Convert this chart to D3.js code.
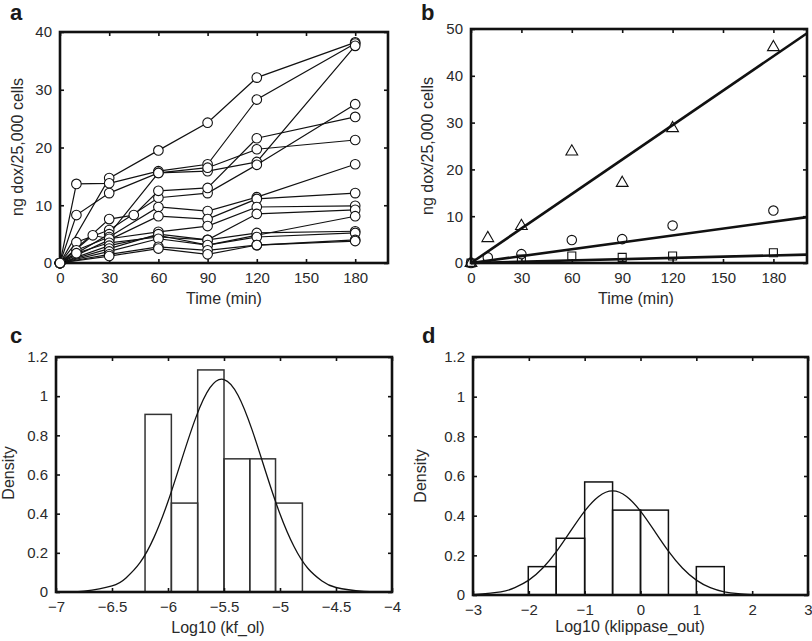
<!DOCTYPE html>
<html>
<head>
<meta charset="utf-8">
<script src="https://cdn.jsdelivr.net/npm/d3@7"></script>
<style>
  body { margin: 0; background: #fff; }
  text { font-family: "Liberation Sans", Arial, Helvetica, sans-serif; fill: #1a1a1a; }
</style>
</head>
<body>
<svg id="fig" width="812" height="641"></svg>
<script>
// ---- panel a : uptake per cell line (time in min, ng dox/25,000 cells)
var timesA = [
  [0, 30, 60, 90, 120, 180],
  [0, 10, 30, 60, 90, 120, 180],
  [0, 10, 30, 60, 90, 120, 180],
  [0, 10, 30, 60, 90, 120, 180],
  [0, 30, 45, 60, 90, 120, 180],
  [0, 30, 60, 90, 120, 180],
  [0, 10, 30, 60, 90, 120, 180],
  [0, 30, 60, 90, 120, 180],
  [0, 20, 30, 60, 90, 120, 180],
  [0, 10, 30, 60, 90, 120, 180],
  [0, 30, 60, 90, 120, 180],
  [0, 30, 60, 90, 120, 180],
  [0, 30, 60, 90, 120, 180],
  [0, 30, 60, 90, 120, 180],
  [0, 30, 60, 90, 120, 180]
];
var valuesA = [
  [0, 14.7, 19.5, 24.3, 32.1, 38.2],
  [0, 13.7, 13.8, 15.9, 17.1, 28.3, 38.0],
  [0, 8.3, 12.1, 15.6, 15.9, 17.5, 37.6],
  [0, 3.6, 5.7, 11.3, 12.1, 17.0, 27.5],
  [0, 7.6, 8.3, 12.5, 13.0, 21.6, 25.3],
  [0, 5.0, 15.6, 16.5, 19.7, 21.3],
  [0, 2.2, 4.5, 9.7, 9.0, 11.4, 17.1],
  [0, 4.0, 8.1, 7.6, 11.1, 12.1],
  [0, 4.8, 4.2, 5.4, 6.4, 9.7, 9.9],
  [0, 1.7, 3.5, 4.5, 4.0, 8.5, 9.2],
  [0, 3.0, 4.8, 3.1, 4.8, 8.1],
  [0, 2.5, 5.0, 4.0, 5.2, 5.5],
  [0, 2.0, 4.2, 3.1, 4.5, 5.2],
  [0, 1.5, 2.8, 2.2, 3.1, 4.0],
  [0, 1.2, 2.5, 1.5, 3.1, 3.8]
];

// ---- panel b : three groups with fitted lines
var timeB = [0, 10, 30, 60, 90, 120, 180];
var triB = [0, 5.3, 7.9, 23.8, 17.1, 28.8, 46.1];
var circB = [0, 1.2, 1.9, 4.9, 5.1, 8.0, 11.2];
var timeSqB = [0, 30, 60, 90, 120, 180];
var sqB = [0, 0.85, 1.5, 1.2, 1.5, 2.2];
var fitTimeB = [0, 200];
var fitTriB = [0, 49.1];
var fitCircB = [0, 9.8];
var fitSqB = [0, 1.8];

// ---- panel c : histogram of Log10 (kf_ol)
var edgesC = [-6.205, -5.97, -5.735, -5.50, -5.27, -5.04, -4.80];
var densC = [0.907, 0.454, 1.134, 0.68, 0.68, 0.454];
var curveXC = [-6.9, -6.75, -6.5, -6.375, -6.25, -6.125, -6.0, -5.875, -5.75, -5.625, -5.5, -5.375, -5.25, -5.125, -5.0, -4.875, -4.75, -4.625, -4.5, -4.25, -4.1];
var curveYC = [0.001, 0.004, 0.031, 0.072, 0.150, 0.279, 0.462, 0.681, 0.893, 1.043, 1.085, 1.005, 0.829, 0.609, 0.398, 0.232, 0.120, 0.056, 0.023, 0.003, 0.001];

// ---- panel d : histogram of Log10 (klippase_out)
var edgesD = [-2.01, -1.51, -1.0, -0.5, 0, 0.5, 1.0, 1.5];
var densD = [0.143, 0.286, 0.57, 0.428, 0.428, 0, 0.143];
var curveXD = [-3, -2.5, -2.25, -2, -1.75, -1.5, -1.25, -1, -0.75, -0.5, -0.25, 0, 0.25, 0.5, 0.75, 1, 1.25, 1.5, 1.75, 2];
var curveYD = [0.002, 0.016, 0.037, 0.075, 0.136, 0.221, 0.323, 0.423, 0.497, 0.525, 0.497, 0.423, 0.323, 0.221, 0.136, 0.075, 0.037, 0.016, 0.007, 0.002];

var timeTicks = [0, 30, 60, 90, 120, 150, 180];
var densTicks = [0, 0.2, 0.4, 0.6, 0.8, 1, 1.2];

var svg = d3.select("#fig");
var fmt = d3.format("~g");

// box with inward ticks on all four sides, like the matlab figure
function frame(x, y, xTicks, yTicks) {
  var x0 = x.range()[0], x1 = x.range()[1],
      y0 = y.range()[0], y1 = y.range()[1];
  var g = svg.append("g");
  g.append("g").attr("transform", "translate(0," + y0 + ")")
    .call(d3.axisBottom(x).tickValues(xTicks).tickSize(-4).tickPadding(9).tickFormat(fmt));
  g.append("g").attr("transform", "translate(0," + y1 + ")")
    .call(d3.axisTop(x).tickValues(xTicks).tickSize(-4).tickFormat(""));
  g.append("g").attr("transform", "translate(" + x0 + ",0)")
    .call(d3.axisLeft(y).tickValues(yTicks).tickSize(-4).tickPadding(8).tickFormat(fmt));
  g.append("g").attr("transform", "translate(" + x1 + ",0)")
    .call(d3.axisRight(y).tickValues(yTicks).tickSize(-4).tickFormat(""));
  g.selectAll(".domain").remove();
  g.selectAll(".tick line").attr("stroke", "#111").attr("stroke-width", 1.6);
  g.selectAll(".tick text").attr("font-size", 15).style("fill", "#2a2a2a");
  g.append("rect")
    .attr("x", x0).attr("y", y1)
    .attr("width", x1 - x0).attr("height", y0 - y1)
    .attr("fill", "none").attr("stroke", "#111").attr("stroke-width", 2.6);
}

function labels(letter, lx, ly, xText, xcx, xcy, yText, ycx, ycy) {
  svg.append("text").attr("x", lx).attr("y", ly)
    .attr("font-size", 22).attr("font-weight", "bold").text(letter);
  svg.append("text").attr("x", xcx).attr("y", xcy)
    .attr("text-anchor", "middle").attr("font-size", 16).style("fill", "#2a2a2a").text(xText);
  svg.append("text").attr("transform", "translate(" + ycx + "," + ycy + ") rotate(-90)")
    .attr("text-anchor", "middle").attr("font-size", 16).style("fill", "#2a2a2a").text(yText);
}

// ===== a =====
var xA = d3.scaleLinear().domain([0, 200]).range([60, 388]);
var yA = d3.scaleLinear().domain([0, 40]).range([263, 32]);
frame(xA, yA, timeTicks, [0, 10, 20, 30, 40]);

var seriesA = timesA.map(function (t, i) {
  return t.map(function (d, j) { return [d, valuesA[i][j]]; });
});
var lineA = d3.line().x(function (d) { return xA(d[0]); }).y(function (d) { return yA(d[1]); });

svg.append("g").selectAll("path").data(seriesA).enter().append("path")
  .attr("d", lineA).attr("fill", "none").attr("stroke", "#111").attr("stroke-width", 1.2);
svg.append("g").selectAll("circle").data(d3.merge(seriesA)).enter().append("circle")
  .attr("cx", function (d) { return xA(d[0]); })
  .attr("cy", function (d) { return yA(d[1]); })
  .attr("r", 4.8).attr("fill", "#fff").attr("stroke", "#111").attr("stroke-width", 1.1);

labels("a", 10, 20, "Time (min)", 224, 304, "ng dox/25,000 cells", 23, 147);

// ===== b =====
var xB = d3.scaleLinear().domain([0, 200]).range([471, 807]);
var yB = d3.scaleLinear().domain([0, 50]).range([263, 29]);
frame(xB, yB, timeTicks, [0, 10, 20, 30, 40, 50]);

var lineB = d3.line()
  .x(function (d, i) { return xB(fitTimeB[i]); })
  .y(function (d) { return yB(d); });
[fitTriB, fitCircB, fitSqB].forEach(function (f) {
  svg.append("path").datum(f).attr("d", lineB)
    .attr("fill", "none").attr("stroke", "#111").attr("stroke-width", 2.6);
});

function markersB(times, vals, type, size) {
  svg.append("g").selectAll("path").data(vals).enter().append("path")
    .attr("transform", function (d, i) { return "translate(" + xB(times[i]) + "," + yB(d) + ")"; })
    .attr("d", d3.symbol().type(type).size(size))
    .attr("fill", "none").attr("stroke", "#111").attr("stroke-width", 1.1);
}
markersB(timeSqB, sqB, d3.symbolSquare, 64);
markersB(timeB, circB, d3.symbolCircle, 70);
markersB(timeB, triB, d3.symbolTriangle, 60);

labels("b", 421, 20, "Time (min)", 636, 304, "ng dox/25,000 cells", 433, 146);

// ===== c =====
var xC = d3.scaleLinear().domain([-7, -4]).range([56, 392]);
var yC = d3.scaleLinear().domain([0, 1.2]).range([592, 357]);

svg.append("g").selectAll("rect").data(densC).enter().append("rect")
  .attr("x", function (d, i) { return xC(edgesC[i]); })
  .attr("width", function (d, i) { return xC(edgesC[i + 1]) - xC(edgesC[i]); })
  .attr("y", function (d) { return yC(d); })
  .attr("height", function (d) { return yC(0) - yC(d); })
  .attr("fill", "none").attr("stroke", "#333").attr("stroke-width", 1.5);

var curveLineC = d3.line().curve(d3.curveNatural)
  .x(function (d, i) { return xC(curveXC[i]); })
  .y(function (d) { return yC(d); });
svg.append("path").datum(curveYC).attr("d", curveLineC)
  .attr("fill", "none").attr("stroke", "#111").attr("stroke-width", 1.3);

frame(xC, yC, [-7, -6.5, -6, -5.5, -5, -4.5, -4], densTicks);
labels("c", 10, 343, "Log10 (kf_ol)", 218, 633, "Density", 14, 473);

// ===== d =====
var xD = d3.scaleLinear().domain([-3, 3]).range([473, 808]);
var yD = d3.scaleLinear().domain([0, 1.2]).range([595, 357]);

var barsD = densD.map(function (d, i) { return { lo: edgesD[i], hi: edgesD[i + 1], v: d }; })
  .filter(function (b) { return b.v > 0; });
svg.append("g").selectAll("rect").data(barsD).enter().append("rect")
  .attr("x", function (b) { return xD(b.lo); })
  .attr("width", function (b) { return xD(b.hi) - xD(b.lo); })
  .attr("y", function (b) { return yD(b.v); })
  .attr("height", function (b) { return yD(0) - yD(b.v); })
  .attr("fill", "none").attr("stroke", "#111").attr("stroke-width", 1.5);

var curveLineD = d3.line().curve(d3.curveNatural)
  .x(function (d, i) { return xD(curveXD[i]); })
  .y(function (d) { return yD(d); });
svg.append("path").datum(curveYD).attr("d", curveLineD)
  .attr("fill", "none").attr("stroke", "#111").attr("stroke-width", 1.3);

frame(xD, yD, [-3, -2, -1, 0, 1, 2, 3], densTicks);
labels("d", 422, 343, "Log10 (klippase_out)", 630, 632, "Density", 426, 476);
</script>
</body>
</html>
